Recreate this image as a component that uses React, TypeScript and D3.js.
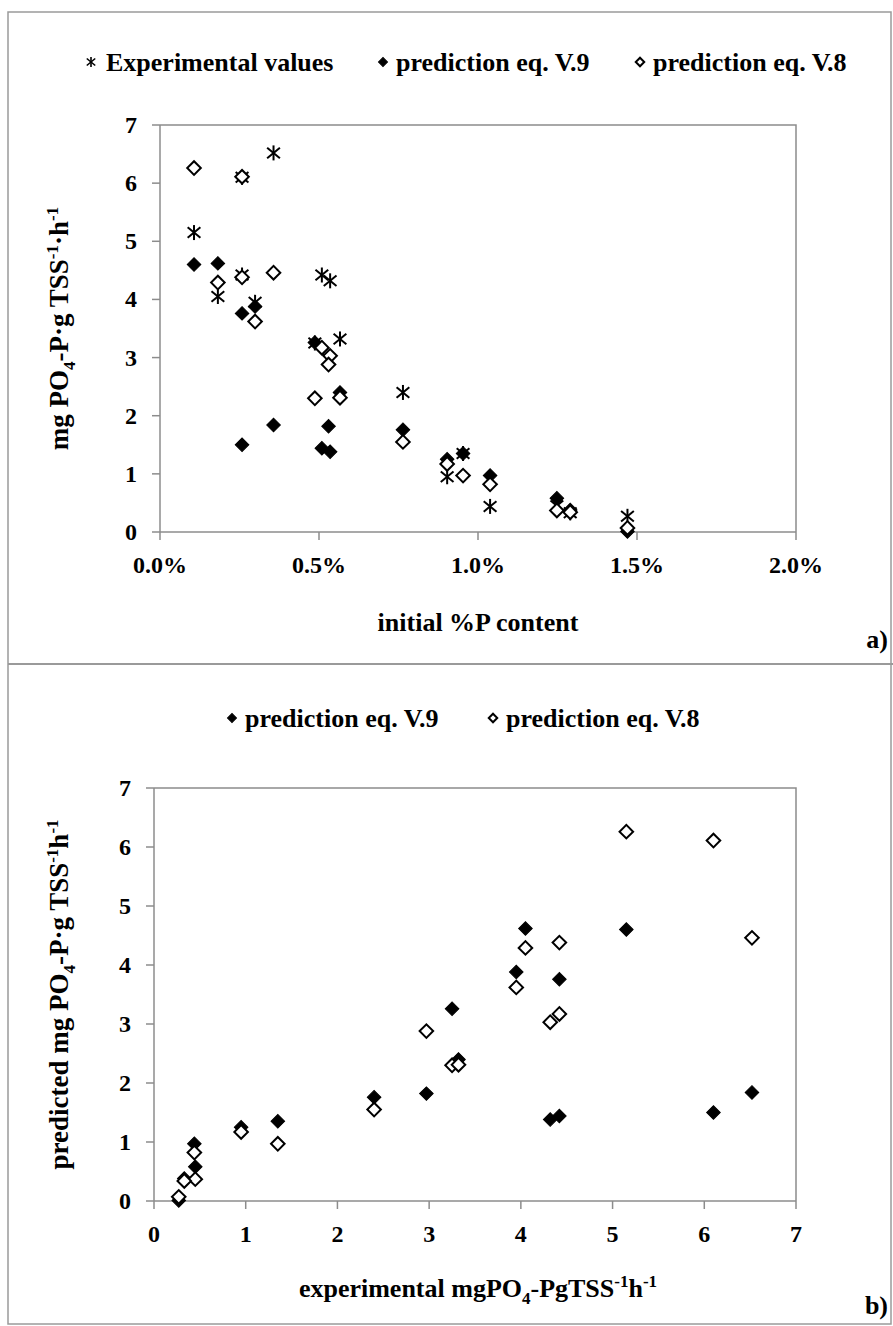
import React from "react";
import * as d3 from "d3";

// ---- data ----
const pContent = [0.107, 0.182, 0.258, 0.258, 0.299, 0.357, 0.487, 0.509, 0.535, 0.530, 0.566, 0.764, 0.903, 0.953, 1.038, 1.248, 1.29, 1.47];
const experimental = [5.15, 4.05, 6.10, 4.42, 3.95, 6.52, 3.25, 4.42, 4.32, 2.97, 3.32, 2.40, 0.95, 1.35, 0.44, 0.45, 0.33, 0.27];
const predV9 = [4.60, 4.62, 1.50, 3.76, 3.88, 1.84, 3.26, 1.44, 1.38, 1.82, 2.40, 1.76, 1.25, 1.35, 0.97, 0.58, 0.38, 0.01];
const predV8 = [6.26, 4.29, 6.11, 4.38, 3.62, 4.46, 2.30, 3.17, 3.03, 2.88, 2.31, 1.55, 1.17, 0.97, 0.82, 0.37, 0.34, 0.07];

const topXTicks = [0, 0.5, 1.0, 1.5, 2.0];
const yTicks = [0, 1, 2, 3, 4, 5, 6, 7];
const bottomXTicks = [0, 1, 2, 3, 4, 5, 6, 7];

const legendTop = ["Experimental values", "prediction eq. V.9", "prediction eq. V.8"];
const legendBottom = ["prediction eq. V.9", "prediction eq. V.8"];

const W = 893;
const H = 1326;
const FONT = "'Liberation Serif', 'Times New Roman', serif";
const GRAY = "#8c8c8c";

const diamondPath = (size: number) => d3.symbol(d3.symbolSquare, size)() as string;

function Star({ x, y, r = 7.5, sw = 2 }: { x: number; y: number; r?: number; sw?: number }) {
  const dx = r * 0.85;
  const dy = r * 0.7;
  return (
    <g transform={`translate(${x},${y})`} stroke="#000" strokeWidth={sw}>
      <line x1={0} y1={-r} x2={0} y2={r} />
      <line x1={-dx} y1={-dy} x2={dx} y2={dy} />
      <line x1={-dx} y1={dy} x2={dx} y2={-dy} />
    </g>
  );
}

function Diamond({ x, y, filled, size = 92 }: { x: number; y: number; filled: boolean; size?: number }) {
  return (
    <path
      d={diamondPath(size)}
      transform={`translate(${x},${y}) rotate(45)`}
      fill={filled ? "#000" : "#fff"}
      stroke="#000"
      strokeWidth={filled ? 1 : 2}
    />
  );
}

export default function App() {
  // top panel scales
  const xTop = d3.scaleLinear().domain([0, 2.0]).range([160, 796]);
  const yTop = d3.scaleLinear().domain([0, 7]).range([532, 125]);
  // bottom panel scales
  const xBot = d3.scaleLinear().domain([0, 7]).range([154, 796]);
  const yBot = d3.scaleLinear().domain([0, 7]).range([1201, 788]);

  const fmtPct = (v: number) => d3.format(".1f")(v) + "%";

  const tickFont = { fontFamily: FONT, fontWeight: 700, fontSize: 24 } as const;
  const labelFont = { fontFamily: FONT, fontWeight: 700, fontSize: 26 } as const;

  return (
    <svg
      width={W}
      height={H}
      style={{ position: "absolute", left: 0, top: 0, display: "block", background: "#fff" }}
    >
      <rect x={0} y={0} width={W} height={H} fill="#fff" />
      {/* outer frame */}
      <rect x={8} y={12} width={883} height={1312} fill="none" stroke="#9a9a9a" strokeWidth={1.5} />
      <line x1={8} x2={W} y1={664} y2={664} stroke="#9a9a9a" strokeWidth={2} />

      {/* ===== TOP PANEL ===== */}
      <g {...labelFont}>
        <Star x={91} y={62} r={5} sw={1.6} />
        <text x={106} y={71}>{legendTop[0]}</text>
        <Diamond x={383} y={62} filled size={40} />
        <text x={396} y={71}>{legendTop[1]}</text>
        <Diamond x={640} y={62} filled={false} size={36} />
        <text x={653} y={71}>{legendTop[2]}</text>
      </g>

      <path d={`M${xTop(0)},${yTop(7)} H${xTop(2)} V${yTop(0)}`} fill="none" stroke={GRAY} strokeWidth={1.5} />
      <line x1={xTop(0)} x2={xTop(0)} y1={yTop(7)} y2={yTop(0)} stroke={GRAY} strokeWidth={1.5} />
      <line x1={xTop(0)} x2={xTop(2)} y1={yTop(0)} y2={yTop(0)} stroke={GRAY} strokeWidth={1.5} />
      {yTicks.map((t) => (
        <g key={"yt" + t}>
          <line x1={xTop(0) - 8} x2={xTop(0)} y1={yTop(t)} y2={yTop(t)} stroke={GRAY} strokeWidth={1.5} />
          <text x={137} y={yTop(t) + 8} textAnchor="end" {...tickFont}>{t}</text>
        </g>
      ))}
      {topXTicks.map((t) => (
        <g key={"xt" + t}>
          <line x1={xTop(t)} x2={xTop(t)} y1={yTop(0)} y2={yTop(0) + 8} stroke={GRAY} strokeWidth={1.5} />
          <text x={xTop(t)} y={573} textAnchor="middle" {...tickFont}>{fmtPct(t)}</text>
        </g>
      ))}

      {experimental.map((v, i) => (
        <Star key={"e" + i} x={xTop(pContent[i])} y={yTop(v)} />
      ))}
      {predV9.map((v, i) => (
        <Diamond key={"a9" + i} x={xTop(pContent[i])} y={yTop(v)} filled />
      ))}
      {predV8.map((v, i) => (
        <Diamond key={"a8" + i} x={xTop(pContent[i])} y={yTop(v)} filled={false} />
      ))}

      <text x={478} y={631} textAnchor="middle" {...labelFont}>initial %P content</text>
      <text x={888} y={648} textAnchor="end" {...labelFont}>a)</text>
      <text transform={`translate(68,${(yTop(0) + yTop(7)) / 2}) rotate(-90)`} textAnchor="middle" {...labelFont} fontSize={27}>
        <tspan>mg PO</tspan>
        <tspan fontSize={17} dy={7}>4</tspan>
        <tspan dy={-7}>-P·g TSS</tspan>
        <tspan fontSize={17} dy={-10}>-1</tspan>
        <tspan dy={10}>·h</tspan>
        <tspan fontSize={17} dy={-10}>-1</tspan>
      </text>

      {/* ===== BOTTOM PANEL ===== */}
      <g {...labelFont}>
        <Diamond x={232} y={718} filled size={40} />
        <text x={245} y={727}>{legendBottom[0]}</text>
        <Diamond x={493} y={718} filled={false} size={36} />
        <text x={506} y={727}>{legendBottom[1]}</text>
      </g>

      <path d={`M${xBot(0)},${yBot(7)} H${xBot(7)} V${yBot(0)}`} fill="none" stroke={GRAY} strokeWidth={1.5} />
      <line x1={xBot(0)} x2={xBot(0)} y1={yBot(7)} y2={yBot(0)} stroke={GRAY} strokeWidth={1.5} />
      <line x1={xBot(0)} x2={xBot(7)} y1={yBot(0)} y2={yBot(0)} stroke={GRAY} strokeWidth={1.5} />
      {yTicks.map((t) => (
        <g key={"byt" + t}>
          <line x1={xBot(0) - 8} x2={xBot(0)} y1={yBot(t)} y2={yBot(t)} stroke={GRAY} strokeWidth={1.5} />
          <text x={131} y={yBot(t) + 8} textAnchor="end" {...tickFont}>{t}</text>
        </g>
      ))}
      {bottomXTicks.map((t) => (
        <g key={"bxt" + t}>
          <line x1={xBot(t)} x2={xBot(t)} y1={yBot(0)} y2={yBot(0) + 8} stroke={GRAY} strokeWidth={1.5} />
          <text x={xBot(t)} y={1242} textAnchor="middle" {...tickFont}>{t}</text>
        </g>
      ))}

      {predV9.map((v, i) => (
        <Diamond key={"b9" + i} x={xBot(experimental[i])} y={yBot(v)} filled />
      ))}
      {predV8.map((v, i) => (
        <Diamond key={"b8" + i} x={xBot(experimental[i])} y={yBot(v)} filled={false} />
      ))}

      <text x={478} y={1297} textAnchor="middle" {...labelFont}>
        <tspan>experimental mgPO</tspan>
        <tspan fontSize={17} dy={7}>4</tspan>
        <tspan dy={-7}>-PgTSS</tspan>
        <tspan fontSize={17} dy={-10}>-1</tspan>
        <tspan dy={10}>h</tspan>
        <tspan fontSize={17} dy={-10}>-1</tspan>
      </text>
      <text x={888} y={1314} textAnchor="end" {...labelFont}>b)</text>
      <text transform={`translate(68,${(yBot(0) + yBot(7)) / 2}) rotate(-90)`} textAnchor="middle" {...labelFont} fontSize={27}>
        <tspan>predicted mg PO</tspan>
        <tspan fontSize={17} dy={7}>4</tspan>
        <tspan dy={-7}>-P·g TSS</tspan>
        <tspan fontSize={17} dy={-10}>-1</tspan>
        <tspan dy={10}>h</tspan>
        <tspan fontSize={17} dy={-10}>-1</tspan>
      </text>
    </svg>
  );
}
